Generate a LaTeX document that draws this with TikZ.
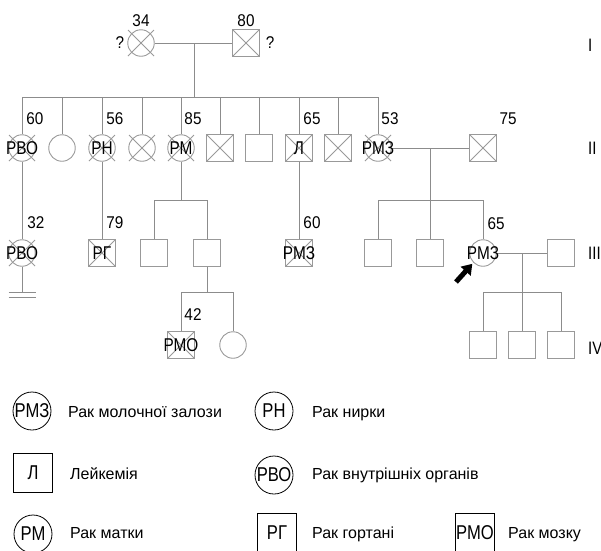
\documentclass[tikz,border=0pt]{standalone}
\usepackage{fontspec}
\setmainfont{Liberation Sans}
\newfontfamily\narrowfont[FakeStretch=0.83]{Liberation Sans}
\newfontfamily\agefont[FakeStretch=0.9]{Liberation Sans}
\usetikzlibrary{arrows.meta}
\definecolor{linegray}{HTML}{8C8C8C}
\definecolor{symgray}{HTML}{999999}

\begin{document}
\begin{tikzpicture}[x=1pt,y=-1pt,font=\fontsize{16}{18}\selectfont,
  link/.style={draw=linegray,line width=0.9pt},
  male/.style={rectangle,draw=symgray,line width=0.9pt,minimum size=26.5pt,inner sep=0pt},
  female/.style={circle,draw=symgray,line width=0.9pt,minimum size=26.5pt,inner sep=0pt},
  sym/.style={inner sep=0pt,font=\narrowfont\fontsize{18.5}{20}\selectfont},
  age/.style={inner sep=0pt,font=\agefont\fontsize{17}{19}\selectfont},
  gen/.style={anchor=west,inner sep=0pt,font=\narrowfont\fontsize{18}{20}\selectfont},
  keycirc/.style={circle,draw=black,line width=0.8pt,minimum size=38pt,inner sep=0pt,
    font=\narrowfont\fontsize{20}{22}\selectfont},
  keysq/.style={rectangle,draw=black,line width=0.8pt,minimum size=39pt,inner sep=0pt,
    font=\narrowfont\fontsize{20}{22}\selectfont},
  keytxt/.style={anchor=base west,inner sep=0pt},
  cross/.style={draw=symgray,line width=0.8pt}
]
\useasboundingbox (0,0) rectangle (601,550);

% generation I
\node[female] (i1) at (141,43) {};
\node[male]   (i2) at (246,43) {};
\coordinate (m1) at (194,43);
\coordinate (s2) at (194,97);

% generation II
\node[female] (ii1)  at (22,148)  {};
\node[female] (ii2)  at (62,148)  {};
\node[female] (ii3)  at (102,148) {};
\node[female] (ii4)  at (142,148) {};
\node[female] (ii5)  at (181,148) {};
\node[male]   (ii6)  at (220,148) {};
\node[male]   (ii7)  at (259,148) {};
\node[male]   (ii8)  at (299,148) {};
\node[male]   (ii9)  at (338,148) {};
\node[female] (ii10) at (378,148) {};
\node[male]   (sp2)  at (483,148) {};
\coordinate (m2) at (430,148);
\coordinate (s3a) at (181,200);
\coordinate (s3b) at (430,200);

% generation III
\node[female] (iii1) at (22,253)  {};
\node[male]   (iii2) at (102,253) {};
\node[male]   (iii3) at (154,253) {};
\node[male]   (iii4) at (207,253) {};
\node[male]   (iii5) at (299,253) {};
\node[male]   (iii6) at (378,253) {};
\node[male]   (iii7) at (430,253) {};
\node[female] (iii8) at (483,253) {};
\node[male]   (sp3)  at (561,253) {};
\coordinate (m3) at (522,253);
\coordinate (s4a) at (207,292);
\coordinate (s4b) at (522,292);

% generation IV
\node[male]   (iv1) at (181,345) {};
\node[female] (iv2) at (233,345) {};
\node[male]   (iv3) at (483,345) {};
\node[male]   (iv4) at (522,345) {};
\node[male]   (iv5) at (561,345) {};

% couples and descent lines
\draw[link] (i1) -- (i2);
\draw[link] (m1) -- (s2);
\draw[link] (ii1.center |- s2) -- (ii10.center |- s2);
\foreach \n in {ii1,ii2,ii3,ii4,ii5,ii6,ii7,ii8,ii9,ii10}
  \draw[link] (\n.center |- s2) -- (\n.north);

\draw[link] (ii1) -- (iii1);
\draw[link] (ii3) -- (iii2);
\draw[link] (ii8) -- (iii5);
\draw[link] (ii5.south) -- (s3a);
\draw[link] (iii3.center |- s3a) -- (iii4.center |- s3a);
\foreach \n in {iii3,iii4}
  \draw[link] (\n.center |- s3a) -- (\n.north);

\draw[link] (ii10) -- (sp2);
\draw[link] (m2) -- (s3b);
\draw[link] (iii6.center |- s3b) -- (iii8.center |- s3b);
\foreach \n in {iii6,iii7,iii8}
  \draw[link] (\n.center |- s3b) -- (\n.north);

\draw[link] (iii4.south) -- (s4a);
\draw[link] (iv1.center |- s4a) -- (iv2.center |- s4a);
\foreach \n in {iv1,iv2}
  \draw[link] (\n.center |- s4a) -- (\n.north);

\draw[link] (iii8) -- (sp3);
\draw[link] (m3) -- (s4b);
\draw[link] (iv3.center |- s4b) -- (iv5.center |- s4b);
\foreach \n in {iv3,iv4,iv5}
  \draw[link] (\n.center |- s4b) -- (\n.north);

% no offspring mark
\coordinate (nb) at (22,292);
\draw[link] (iii1.south) -- (nb);
\draw[link] (nb) ++(-13.5,0) -- ++(27,0);
\draw[link] (nb) ++(-13.5,5) -- ++(27,0);

% deceased
\foreach \n in {i1,i2,ii1,ii3,ii4,ii5,ii6,ii8,ii9,ii10,sp2,iii1,iii2,iii5,iv1}
  \draw[cross] (\n.center) ++(-13,-13) -- ++(26,26)
               (\n.center) ++(-13,13) -- ++(26,-26);

% diagnoses
\node[sym] at (ii1)  {РВО};
\node[sym] at (ii3)  {РН};
\node[sym] at (ii5)  {РМ};
\node[sym] at (ii8)  {Л};
\node[sym] at (ii10) {РМЗ};
\node[sym] at (iii1) {РВО};
\node[sym] at (iii2) {РГ};
\node[sym] at (iii5) {РМЗ};
\node[sym] at (iii8) {РМЗ};
\node[sym] at (iv1)  {РМО};

% ages
\path (i1) ++(0,-22) node[age] {34};
\path (i2) ++(0,-22) node[age] {80};
\path (i1) ++(-21,0) node[age] {?};
\path (i2) ++(24,0) node[age] {?};
\path (ii1)  ++(13,-29) node[age] {60};
\path (ii3)  ++(13,-29) node[age] {56};
\path (ii5)  ++(12,-29) node[age] {85};
\path (ii8)  ++(13,-29) node[age] {65};
\path (ii10) ++(12,-29) node[age] {53};
\path (sp2)  ++(25,-29) node[age] {75};
\path (iii1) ++(14,-30) node[age] {32};
\path (iii2) ++(13,-30) node[age] {79};
\path (iii5) ++(13,-30) node[age] {60};
\path (iii8) ++(13,-29) node[age] {65};
\path (iv1)  ++(12,-30) node[age] {42};

% proband
\coordinate (pb) at (456,282);
\draw[line width=5pt,-{Triangle[length=10pt,width=13pt]},shorten >=1.5pt] (pb) -- (iii8.south west);

% generation numbers
\node[gen] (g1) at (588,45)  {I};
\node[gen] (g2) at (588,148) {II};
\node[gen] (g3) at (588,253) {III};
\node[gen] (g4) at (588,348) {IV};

% key
\node[keycirc] (k1) at (32,411)  {РМЗ};
\node[keysq]   (k2) at (33,473)  {Л};
\node[keycirc] (k3) at (33,534)  {РМ};
\node[keycirc] (k4) at (274,411) {РН};
\node[keycirc] (k5) at (274,475) {РВО};
\node[keysq]   (k6) at (277,533) {РГ};
\node[keysq]   (k7) at (475,533) {РМО};
\node[keytxt] at (68,417)  {Рак молочної залози};
\node[keytxt] at (70,479)  {Лейкемія};
\node[keytxt] at (70,538)  {Рак матки};
\node[keytxt] at (312,417) {Рак нирки};
\node[keytxt] at (312,479) {Рак внутрішніх органів};
\node[keytxt] at (312,538) {Рак гортані};
\node[keytxt] at (508,538) {Рак мозку};
\end{tikzpicture}
\end{document}
